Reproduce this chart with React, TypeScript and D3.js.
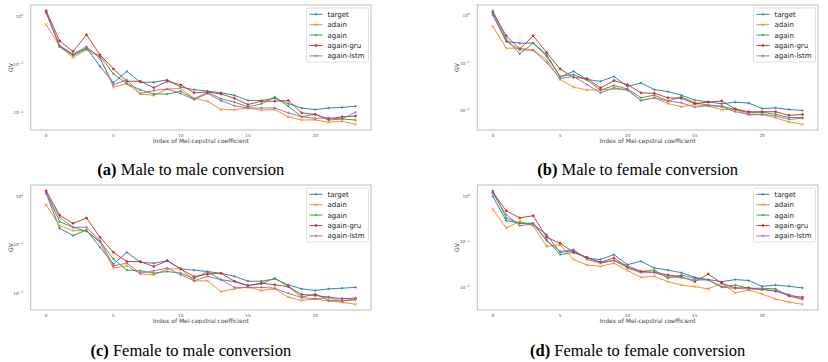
import React from 'react';
import * as d3 from 'd3';

// index of mel-cepstral coefficient (x) and tick labels
const coeffIndex = [0, 1, 2, 3, 4, 5, 6, 7, 8, 9, 10, 11, 12, 13, 14, 15, 16, 17, 18, 19, 20, 21, 22, 23];
const xTicks = [0, 5, 10, 15, 20];
const yTickExps = [0, -1, -2];
const seriesNames = ['target', 'adain', 'again', 'again-gru', 'again-lstm'];
const seriesColors = ['#1f77b4', '#ff7f0e', '#2ca02c', '#d62728', '#9467bd'];
const captionTags = ['(a)', '(b)', '(c)', '(d)'];
const captionTexts = ['Male to male conversion', 'Male to female conversion', 'Female to male conversion', 'Female to female conversion'];

// (a) male -> male
const mmTarget = [1.17, 0.24, 0.158, 0.22, 0.091, 0.042, 0.072, 0.043, 0.043, 0.048, 0.034, 0.030, 0.028, 0.026, 0.023, 0.018, 0.018, 0.020, 0.0155, 0.0126, 0.0117, 0.0126, 0.013, 0.0137];
const mmAdain = [0.67, 0.234, 0.139, 0.20, 0.14, 0.034, 0.040, 0.0245, 0.023, 0.031, 0.032, 0.020, 0.0174, 0.0117, 0.0116, 0.0126, 0.0114, 0.0117, 0.0083, 0.0071, 0.0072, 0.0064, 0.0067, 0.0058];
const mmAgain = [1.23, 0.234, 0.153, 0.21, 0.15, 0.064, 0.040, 0.030, 0.0245, 0.0245, 0.028, 0.0195, 0.0266, 0.0195, 0.0166, 0.0133, 0.0153, 0.0214, 0.0137, 0.0083, 0.0094, 0.0071, 0.0075, 0.0071];
const mmGru = [1.29, 0.306, 0.185, 0.41, 0.158, 0.081, 0.045, 0.045, 0.033, 0.045, 0.038, 0.026, 0.027, 0.0245, 0.020, 0.0148, 0.0174, 0.0174, 0.018, 0.010, 0.0093, 0.0075, 0.0083, 0.0086];
const mmLstm = [1.17, 0.245, 0.163, 0.234, 0.135, 0.038, 0.048, 0.025, 0.029, 0.031, 0.025, 0.0188, 0.025, 0.0178, 0.014, 0.0126, 0.0126, 0.0126, 0.010, 0.0083, 0.0077, 0.0079, 0.0075, 0.0103];

// (b) male -> female
const mfTarget = [1.03, 0.285, 0.263, 0.263, 0.15, 0.051, 0.067, 0.045, 0.041, 0.052, 0.032, 0.038, 0.0275, 0.025, 0.021, 0.0165, 0.0152, 0.0138, 0.015, 0.0143, 0.011, 0.0113, 0.0105, 0.010];
const mfAdain = [0.59, 0.206, 0.206, 0.19, 0.117, 0.045, 0.031, 0.027, 0.027, 0.0285, 0.027, 0.0162, 0.0185, 0.014, 0.012, 0.0133, 0.0123, 0.0105, 0.0105, 0.0080, 0.0082, 0.0070, 0.0057, 0.0051];
const mfAgain = [1.27, 0.32, 0.157, 0.263, 0.138, 0.052, 0.057, 0.0435, 0.027, 0.0335, 0.0285, 0.0185, 0.021, 0.0158, 0.0194, 0.0145, 0.013, 0.0123, 0.0105, 0.0089, 0.0092, 0.0083, 0.0071, 0.0071];
const mfGru = [1.17, 0.375, 0.197, 0.375, 0.167, 0.075, 0.050, 0.047, 0.030, 0.0427, 0.035, 0.0235, 0.023, 0.0185, 0.018, 0.014, 0.015, 0.0158, 0.0108, 0.0094, 0.0094, 0.0094, 0.0079, 0.0082];
const mfLstm = [1.12, 0.285, 0.19, 0.185, 0.103, 0.047, 0.052, 0.035, 0.0235, 0.030, 0.027, 0.0162, 0.0185, 0.0158, 0.0145, 0.0117, 0.0127, 0.012, 0.0094, 0.0083, 0.0083, 0.0077, 0.0065, 0.0068];

// (c) female -> male
const fmTarget = [1.15, 0.219, 0.155, 0.202, 0.089, 0.040, 0.070, 0.0436, 0.0416, 0.047, 0.0317, 0.030, 0.028, 0.0258, 0.0224, 0.0177, 0.0177, 0.0198, 0.0149, 0.0123, 0.0114, 0.0123, 0.0127, 0.0132];
const fmAdain = [0.67, 0.248, 0.196, 0.196, 0.112, 0.033, 0.037, 0.025, 0.024, 0.0317, 0.032, 0.018, 0.018, 0.0108, 0.0123, 0.0133, 0.0114, 0.0123, 0.0083, 0.0071, 0.0075, 0.0069, 0.0065, 0.0059];
const fmAgain = [1.21, 0.30, 0.23, 0.19, 0.118, 0.051, 0.030, 0.029, 0.026, 0.028, 0.026, 0.020, 0.028, 0.019, 0.0174, 0.0144, 0.0156, 0.0204, 0.0137, 0.0083, 0.0097, 0.0071, 0.0069, 0.0073];
const fmGru = [1.31, 0.41, 0.277, 0.357, 0.143, 0.070, 0.045, 0.045, 0.0355, 0.047, 0.0317, 0.022, 0.025, 0.0258, 0.0177, 0.0144, 0.0162, 0.0149, 0.0137, 0.0094, 0.009, 0.0083, 0.0077, 0.0079];
const fmLstm = [1.15, 0.37, 0.23, 0.23, 0.122, 0.037, 0.0416, 0.026, 0.029, 0.033, 0.024, 0.018, 0.0224, 0.019, 0.0132, 0.0132, 0.0132, 0.0127, 0.010, 0.0081, 0.0077, 0.0081, 0.0069, 0.0077];

// (d) female -> female
const ffTarget = [1.02, 0.295, 0.263, 0.25, 0.145, 0.059, 0.064, 0.0435, 0.041, 0.0525, 0.0316, 0.0375, 0.0268, 0.024, 0.021, 0.0166, 0.0148, 0.0133, 0.0148, 0.0141, 0.0105, 0.0112, 0.0105, 0.0097];
const ffAdain = [0.53, 0.204, 0.286, 0.229, 0.080, 0.087, 0.041, 0.031, 0.029, 0.034, 0.0234, 0.0166, 0.0175, 0.0133, 0.0112, 0.0103, 0.0092, 0.0123, 0.0075, 0.0087, 0.0071, 0.0055, 0.0047, 0.0042];
const ffAgain = [1.36, 0.34, 0.258, 0.262, 0.111, 0.0525, 0.059, 0.0445, 0.0356, 0.039, 0.030, 0.0224, 0.024, 0.0158, 0.0187, 0.0158, 0.0145, 0.0103, 0.0112, 0.0095, 0.0095, 0.0092, 0.0063, 0.0055];
const ffGru = [1.25, 0.49, 0.34, 0.38, 0.127, 0.094, 0.059, 0.046, 0.0356, 0.0445, 0.0275, 0.0224, 0.0215, 0.0187, 0.0172, 0.0133, 0.0196, 0.0123, 0.0097, 0.0097, 0.0089, 0.0082, 0.0066, 0.006];
const ffLstm = [1.18, 0.40, 0.229, 0.25, 0.107, 0.062, 0.068, 0.041, 0.034, 0.039, 0.0268, 0.021, 0.021, 0.0172, 0.0162, 0.0145, 0.0145, 0.010, 0.0095, 0.0092, 0.0089, 0.0085, 0.0069, 0.0054];

const panelSeries = [
  [mmTarget, mmAdain, mmAgain, mmGru, mmLstm],
  [mfTarget, mfAdain, mfAgain, mfGru, mfLstm],
  [fmTarget, fmAdain, fmAgain, fmGru, fmLstm],
  [ffTarget, ffAdain, ffAgain, ffGru, ffLstm],
];

// plot-area boxes of the four panels
const boxes = [
  { left: 30.7, top: 5, width: 340.3, height: 125 },
  { left: 477.3, top: 5, width: 340.7, height: 125 },
  { left: 30.7, top: 185, width: 340.3, height: 125 },
  { left: 477.3, top: 185, width: 340.7, height: 125 },
];

const sans = 'DejaVu Sans, sans-serif';

const marker = (i: number, x: number, y: number) => {
  const s = 1.3;
  if (i === 1) return `M${x - s},${y - s}L${x + s},${y + s}M${x - s},${y + s}L${x + s},${y - s}`;
  if (i === 3) return `M${x - 1},${y}a1,1 0 1,0 2,0a1,1 0 1,0 -2,0`;
  return `M${x - s},${y}L${x + s},${y}M${x},${y - s}L${x},${y + s}`;
};

const Panel = ({ idx }: { idx: number }) => {
  const b = boxes[idx];
  const series = panelSeries[idx];
  const all = series.flat();
  const lo = Math.log10(d3.min(all) as number);
  const hi = Math.log10(d3.max(all) as number);
  const pad = (hi - lo) * 0.05;
  const y = d3.scaleLog().domain([10 ** (lo - pad), 10 ** (hi + pad)]).range([b.top + b.height, b.top]);
  const xPad = (coeffIndex[coeffIndex.length - 1] - coeffIndex[0]) * 0.05;
  const x = d3.scaleLinear().domain([coeffIndex[0] - xPad, coeffIndex[coeffIndex.length - 1] + xPad]).range([b.left, b.left + b.width]);
  const line = d3.line<number>().x((_, i) => x(coeffIndex[i])).y((d) => y(d));

  const legW = 62;
  const legX = b.left + b.width - 2.5 - legW;
  const legY = b.top + 3;
  const rowH = 10.4;
  const cx = b.left + b.width / 2;
  const captionY = idx < 2 ? 174.5 : 355.5;

  return (
    <g>
      {/* series */}
      {series.map((vals, si) => (
        <g key={si}>
          <path d={line(vals) || ''} fill="none" stroke={seriesColors[si]} strokeWidth={1} strokeOpacity={0.9} />
          <path
            d={vals.map((v, i) => marker(si, x(coeffIndex[i]), y(v))).join('')}
            fill={si === 3 ? seriesColors[si] : 'none'}
            stroke={seriesColors[si]}
            strokeWidth={0.7}
          />
        </g>
      ))}
      {/* frame */}
      <rect x={b.left} y={b.top} width={b.width} height={b.height} fill="none" stroke="#bdbdbd" strokeWidth={1} />
      {/* x ticks */}
      {xTicks.map((t) => (
        <text key={t} x={x(t)} y={b.top + b.height + 7.2} fontSize={4.3} fill="#555" textAnchor="middle" fontFamily={sans}>
          {t}
        </text>
      ))}
      {/* y ticks */}
      {yTickExps.map((e) => (
        <text key={e} x={b.left - 7.5} y={y(10 ** e) + 1.5} fontSize={4.3} fill="#555" textAnchor="end" fontFamily={sans}>
          10
          <tspan fontSize={3} dy={-1.8}>{e === 0 ? '0' : '\u2212' + Math.abs(e)}</tspan>
        </text>
      ))}
      <text x={cx} y={b.top + b.height + 12.8} fontSize={6} fill="#444" textAnchor="middle" fontFamily={sans}>
        Index of Mel-cepstral coefficient
      </text>
      <text
        transform={`translate(${b.left - 18},${b.top + b.height / 2}) rotate(-90)`}
        fontSize={6}
        fill="#444"
        textAnchor="middle"
        fontFamily={sans}
      >
        GV
      </text>
      {/* legend */}
      <rect x={legX} y={legY} width={legW} height={54} rx={1.5} fill="#fff" fillOpacity={0.85} stroke="#d8d8d8" strokeWidth={0.8} />
      {seriesNames.map((name, si) => {
        const ry = legY + 6.3 + si * rowH;
        return (
          <g key={name}>
            <line x1={legX + 3} x2={legX + 16} y1={ry} y2={ry} stroke={seriesColors[si]} strokeWidth={1} strokeOpacity={0.9} />
            <path d={marker(si, legX + 9.5, ry)} fill={si === 3 ? seriesColors[si] : 'none'} stroke={seriesColors[si]} strokeWidth={0.7} />
            <text x={legX + 21} y={ry + 2.4} fontSize={7} fill="#222" fontFamily={sans}>
              {name}
            </text>
          </g>
        );
      })}
      {/* caption */}
      <text x={cx - 10} y={captionY} fontSize={16.5} fill="#000" textAnchor="middle" fontFamily="Liberation Serif, Times New Roman, serif">
        <tspan fontWeight="bold">{captionTags[idx]}</tspan> {captionTexts[idx]}
      </text>
    </g>
  );
};

export default function App() {
  return (
    <svg width={828} height={362} style={{ position: 'absolute', left: 0, top: 0, background: '#fff' }}>
      {boxes.map((_, i) => (
        <Panel key={i} idx={i} />
      ))}
    </svg>
  );
}
